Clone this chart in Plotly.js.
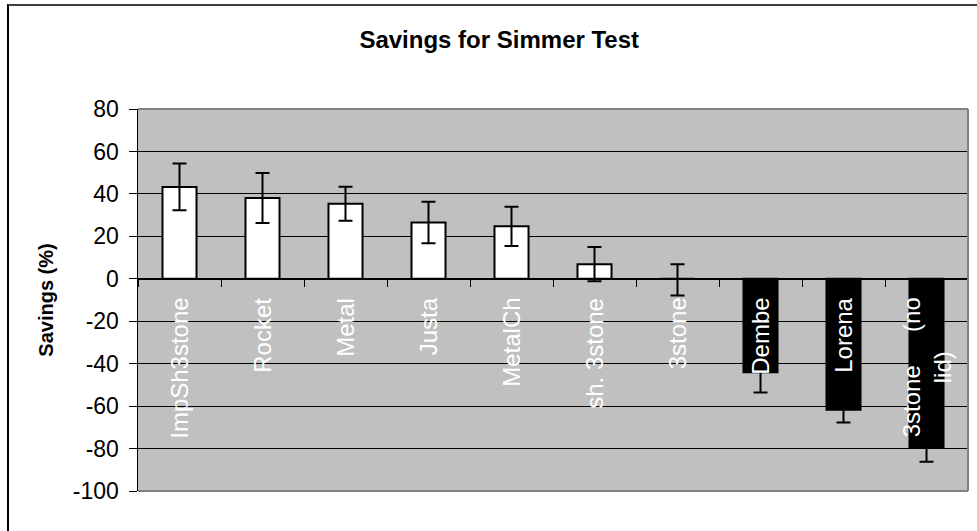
<!DOCTYPE html>
<html>
<head>
<meta charset="utf-8">
<script src="https://cdn.plot.ly/plotly-3.0.1.min.js"></script>
<style>
  html, body { margin: 0; padding: 0; background: #ffffff; }
  #wrap { position: relative; width: 977px; height: 531px; overflow: hidden; }
  #chart { width: 977px; height: 531px; }
  #frame { position: absolute; left: 7px; top: 4px; width: 1000px; height: 600px;
           border-top: 2px solid #404040; border-left: 2px solid #000000;
           pointer-events: none; }
</style>
</head>
<body>
<div id="wrap">
  <div id="chart"></div>
  <div id="frame"></div>
</div>
<script>
// ---- data ----
var categories = ['ImpSh3stone', 'Rocket', 'Metal', 'Justa', 'MetalCh',
                  'sh. 3stone', '3stone', 'Dembe', 'Lorena', '3stone (no lid)'];
var labelTexts = ['ImpSh3stone', 'Rocket', 'Metal', 'Justa', 'MetalCh',
                  'sh. 3stone', '3stone', 'Dembe', 'Lorena',
                  '3stone\u00A0\u00A0\u00A0\u00A0\u00A0(no<br>lid)'];
var savings = [43.3, 38.1, 35.4, 26.5, 24.7, 6.9, 0, -44.1, -61.7, -79.5];
var errPlus = [11.0, 11.8, 8.0, 9.8, 9.2, 8.1, 6.9, 9.5, 6.0, 6.7];
var errMinus = [11.0, 11.8, 8.0, 9.8, 9.2, 8.1, 7.9, 9.5, 6.0, 6.7];
var yTicks = [-100, -80, -60, -40, -20, 0, 20, 40, 60, 80];

var barColors = savings.map(function (v) { return v < 0 ? '#000000' : '#ffffff'; });

var trace = {
  type: 'bar',
  x: categories,
  y: savings,
  marker: { color: barColors, line: { color: '#000000', width: 2 } },
  error_y: {
    type: 'data', symmetric: false,
    array: errPlus, arrayminus: errMinus,
    color: '#000000', thickness: 2, width: 7
  },
  hoverinfo: 'x+y'
};

var annotations = categories.map(function (c, i) {
  return {
    x: c, y: 0, xref: 'x', yref: 'y',
    text: labelTexts[i], showarrow: false,
    textangle: -90, xanchor: 'center', yanchor: 'top', yshift: -17,
    align: 'center',
    font: { family: 'Liberation Sans, Arial, sans-serif', size: 24, color: '#ffffff' }
  };
});

var layout = {
  width: 977, height: 531,
  margin: { l: 138, r: 9, t: 109, b: 40, pad: 0 },
  paper_bgcolor: '#ffffff',
  plot_bgcolor: '#c0c0c0',
  showlegend: false,
  bargap: 0.59,
  title: {
    text: '<b>Savings for Simmer Test</b>',
    x: 0.511, xref: 'container', xanchor: 'center',
    y: 1 - 40 / 531, yref: 'container', yanchor: 'middle',
    font: { family: 'Liberation Sans, Arial, sans-serif', size: 24, color: '#000000' }
  },
  xaxis: {
    type: 'category',
    range: [-0.5, 9.5],
    anchor: 'free', position: 100 / 180,
    showline: true, linecolor: '#000000', linewidth: 1.5,
    ticks: 'outside', tickson: 'boundaries', ticklen: 7, tickwidth: 1, tickcolor: '#000000',
    showticklabels: false, showgrid: false, zeroline: false, fixedrange: true
  },
  yaxis: {
    range: [-100, 80],
    tickvals: yTicks,
    ticktext: yTicks.map(String),
    showline: true, linecolor: '#000000', linewidth: 1.5,
    ticks: 'outside', ticklen: 8, tickwidth: 1, tickcolor: '#000000',
    ticklabelstandoff: 5,
    showgrid: true, gridcolor: '#000000', gridwidth: 1,
    zeroline: true, zerolinecolor: '#000000', zerolinewidth: 1,
    tickfont: { family: 'Liberation Sans, Arial, sans-serif', size: 23, color: '#000000' },
    title: {
      text: '<b>Savings (%)</b>',
      standoff: 14,
      font: { family: 'Liberation Sans, Arial, sans-serif', size: 20, color: '#000000' }
    },
    fixedrange: true
  },
  shapes: [
    { type: 'line', xref: 'paper', yref: 'paper', x0: 0, x1: 1, y0: 1, y1: 1,
      line: { color: '#808080', width: 2 }, layer: 'above' },
    { type: 'line', xref: 'paper', yref: 'paper', x0: 1, x1: 1, y0: 0, y1: 1,
      line: { color: '#808080', width: 2 }, layer: 'above' },
    { type: 'line', xref: 'paper', yref: 'paper', x0: 0, x1: 1, y0: 0, y1: 0,
      line: { color: '#808080', width: 2 }, layer: 'above' }
  ],
  annotations: annotations
};

Plotly.newPlot('chart', [trace], layout, { displayModeBar: false, staticPlot: true });
</script>
</body>
</html>
